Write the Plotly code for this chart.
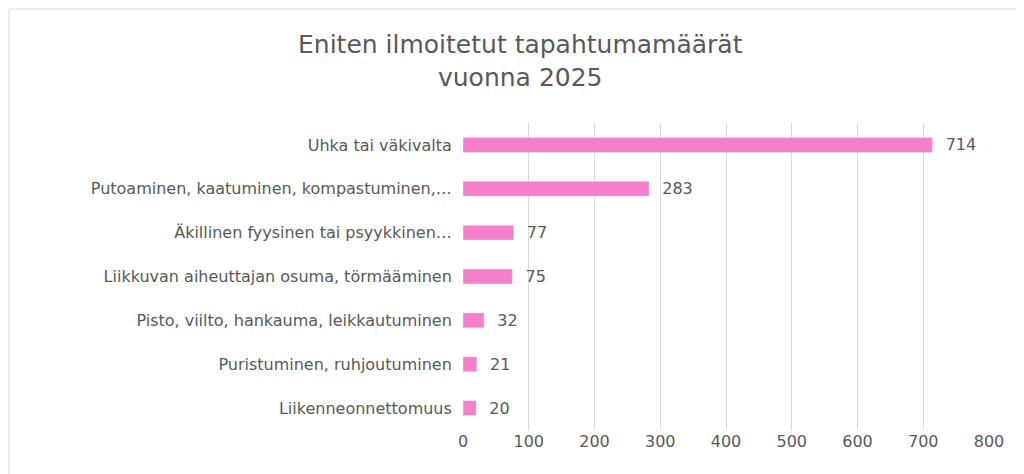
import plotly.graph_objects as go

categories = ["Uhka tai väkivalta", "Putoaminen, kaatuminen, kompastuminen,…",
              "Äkillinen fyysinen tai psyykkinen…", "Liikkuvan aiheuttajan osuma, törmääminen",
              "Pisto, viilto, hankauma, leikkautuminen", "Puristuminen, ruhjoutuminen",
              "Liikenneonnettomuus"]
values = [714, 283, 77, 75, 32, 21, 20]
tickvals = [0, 100, 200, 300, 400, 500, 600, 700, 800]

font = "DejaVu Sans, Verdana, sans-serif"
grey = "#595959"
fig = go.Figure(go.Bar(
    y=categories[::-1], x=values[::-1], orientation="h", width=0.34,
    marker_color="#F47FCB", text=["  " + str(v) for v in values[::-1]],
    textposition="outside", constraintext="none",
    textfont=dict(size=16, color=grey, family=font),
    cliponaxis=False))
fig.update_layout(
    width=1024, height=474, paper_bgcolor="white", plot_bgcolor="white",
    margin=dict(l=455, r=43, t=115, b=52, autoexpand=False),
    xaxis=dict(range=[0, 800], tickvals=tickvals, showgrid=True, gridcolor="#D9D9D9",
               zeroline=False, tickfont=dict(size=16, color=grey, family=font), ticks="",
               automargin=False),
    yaxis=dict(tickfont=dict(size=16, color=grey, family=font), ticksuffix="  ",
               showline=False, showgrid=False, automargin=False),
    showlegend=False,
    annotations=[dict(text="Eniten ilmoitetut tapahtumamäärät<br>vuonna 2025", xref="paper",
                      yref="paper", x=(512 - 455) / 526, y=(474 - 52 - 20) / 307 + 0.0,
                      xanchor="center", yanchor="top", showarrow=False,
                      yshift=(474 - 52 - 20) - 307 and 0,
                      font=dict(size=25, color=grey, family=font))],
    shapes=[dict(type="rect", xref="paper", yref="paper", x0=-454/526, x1=(526+42)/526,
                 y0=-50/307, y1=(307+114)/307, line=dict(color="#D9D9D9", width=1))],
)
# place title by pixel: top at ~20px from top
fig.layout.annotations[0].y = (307 + 115 - 20) / 307
fig.write_html("out.html")
